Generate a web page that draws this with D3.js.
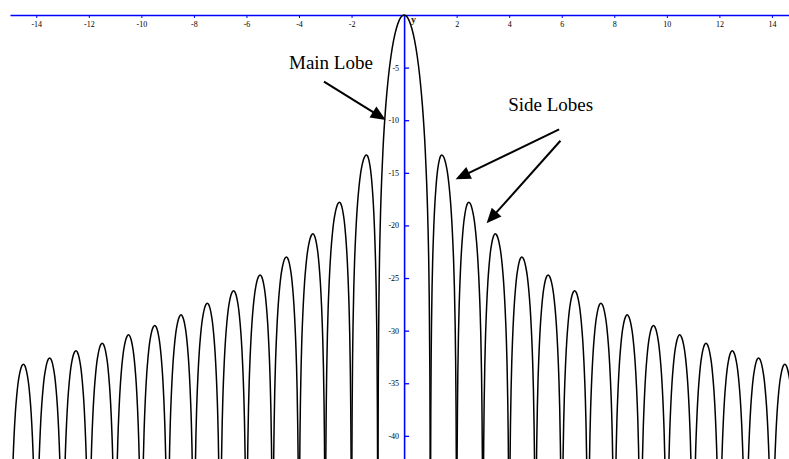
<!DOCTYPE html>
<html>
<head>
<meta charset="utf-8">
<script src="https://cdn.jsdelivr.net/npm/d3@7"></script>
<style>
  body { margin: 0; background: #fff; }
  svg { display: block; }
  .tick text { font-family: "Liberation Serif", "Times New Roman", serif; font-size: 8px; fill: #000; }
</style>
</head>
<body>
<svg id="chart" width="789" height="459"></svg>
<script>
// main lobe, right half (left half is the mirror)
const mainLobeX  = [0, 0.05, 0.1, 0.15, 0.2, 0.3, 0.4, 0.5, 0.6, 0.7, 0.8, 0.85, 0.9, 0.95, 0.98, 0.99, 0.995, 1];
const mainLobeDb = [0, -0.04, -0.14, -0.32, -0.58, -1.33, -2.42, -3.92, -5.94, -8.69, -12.6, -15.4, -19.2, -25.6, -33.8, -39.9, -46, -60];

// side lobe peaks for x > 0 (mirrored for x < 0)
const sideLobePeakX  = [1.43, 2.46, 3.47, 4.48, 5.48, 6.49, 7.49, 8.49, 9.49, 10.49, 11.49, 12.49, 13.49, 14.49];
const sideLobePeakDb = [-13.3, -17.8, -20.8, -23.0, -24.7, -26.2, -27.4, -28.5, -29.5, -30.4, -31.2, -31.9, -32.6, -33.2];

// shape of one side lobe: fraction of the way from a null to the peak, dB below the peak
const lobeShapeFrac = [0, 0.005, 0.01, 0.02, 0.04, 0.07, 0.1, 0.15, 0.2, 0.3, 0.4, 0.5, 0.6, 0.7, 0.8, 0.9, 1];
const lobeShapeDb   = [-60, -42.1, -36.1, -30.1, -24.0, -19.2, -16.1, -12.6, -10.2, -6.9, -4.6, -3.0, -1.8, -1.0, -0.44, -0.11, 0];

const xTicks = [-14, -12, -10, -8, -6, -4, -2, 2, 4, 6, 8, 10, 12, 14];
const yTicks = [-5, -10, -15, -20, -25, -30, -35, -40];

const labels = [
  { text: "Main Lobe", x: -4.38, y: -5.13 },
  { text: "Side Lobes", x: 3.96, y: -9.1 }
];
const arrows = [
  { x1: -3.05, y1: -6.34, x2: -0.70, y2: -9.98 },
  { x1: 5.90, y1: -10.87, x2: 1.96, y2: -15.62 },
  { x1: 5.95, y1: -11.95, x2: 3.14, y2: -19.80 }
];

const width = 789, height = 459;
const svg = d3.select("#chart");

const x = d3.scaleLinear().domain([-15, 14.65]).range([10, 789]);
const y = d3.scaleLinear().domain([0, -42.2]).range([15, 459]);

// build lobes as point lists
let lobes = [];

let main = [];
for (let i = mainLobeX.length - 1; i > 0; i--) main.push([-mainLobeX[i], mainLobeDb[i]]);
for (let i = 0; i < mainLobeX.length; i++) main.push([mainLobeX[i], mainLobeDb[i]]);
lobes.push(main);

sideLobePeakX.forEach((px, k) => {
  const nullLeft = k + 1;
  const nullRight = k + 2;
  const peak = sideLobePeakDb[k];
  let pts = [];
  lobeShapeFrac.forEach((f, j) => {
    pts.push([nullLeft + f * (px - nullLeft), peak + lobeShapeDb[j]]);
  });
  for (let j = lobeShapeFrac.length - 2; j >= 0; j--) {
    pts.push([px + (1 - lobeShapeFrac[j]) * (nullRight - px), peak + lobeShapeDb[j]]);
  }
  lobes.push(pts);
  lobes.push(pts.map(p => [-p[0], p[1]]).reverse());
});

svg.append("rect").attr("width", width).attr("height", height).attr("fill", "#fff");

svg.append("clipPath").attr("id", "plotclip")
  .append("rect")
  .attr("x", x(-15)).attr("y", 0)
  .attr("width", width - x(-15)).attr("height", height);

const line = d3.line()
  .x(d => x(d[0]))
  .y(d => y(d[1]))
  .curve(d3.curveMonotoneX);

// axes
const xAxis = d3.axisBottom(x)
  .tickValues(xTicks)
  .tickFormat(d => String(d))
  .tickSizeInner(3)
  .tickSizeOuter(0)
  .tickPadding(3);

const gx = svg.append("g").attr("transform", `translate(0,${y(0)})`).call(xAxis);
gx.select(".domain").attr("stroke", "#0000ff").attr("stroke-width", 1.6);
gx.selectAll(".tick line").attr("stroke", "#0000ff");

const yAxis = d3.axisLeft(y)
  .tickValues(yTicks)
  .tickFormat(d => String(d))
  .tickSizeInner(-5)
  .tickSizeOuter(0)
  .tickPadding(5);

const gy = svg.append("g").attr("transform", `translate(${x(0)},0)`).call(yAxis);
gy.select(".domain").attr("stroke", "#0000ff").attr("stroke-width", 1.6);
gy.selectAll(".tick line").attr("stroke", "#0000ff").attr("stroke-width", 1.3);

svg.append("text")
  .attr("x", x(0) + 7)
  .attr("y", y(0) + 8)
  .attr("font-family", "Liberation Serif, Times New Roman, serif")
  .attr("font-size", 10)
  .attr("font-weight", "bold")
  .attr("fill", "#222")
  .text("y");

// curve
svg.append("g").attr("clip-path", "url(#plotclip)")
  .selectAll("path.lobe")
  .data(lobes)
  .enter()
  .append("path")
  .attr("class", "lobe")
  .attr("d", line)
  .attr("fill", "none")
  .attr("stroke", "#000")
  .attr("stroke-width", 1.5);

// annotations
svg.selectAll("text.anno")
  .data(labels)
  .enter()
  .append("text")
  .attr("class", "anno")
  .attr("x", d => x(d.x))
  .attr("y", d => y(d.y))
  .attr("font-family", "Liberation Serif, Times New Roman, serif")
  .attr("font-size", 19)
  .attr("fill", "#000")
  .text(d => d.text);

const headLen = 15, headHalf = 6.5;
arrows.forEach(a => {
  const x1 = x(a.x1), y1 = y(a.y1), x2 = x(a.x2), y2 = y(a.y2);
  const len = Math.hypot(x2 - x1, y2 - y1);
  const ux = (x2 - x1) / len, uy = (y2 - y1) / len;
  const bx = x2 - ux * headLen, by = y2 - uy * headLen;
  svg.append("line")
    .attr("x1", x1).attr("y1", y1)
    .attr("x2", bx + ux * 3).attr("y2", by + uy * 3)
    .attr("stroke", "#000")
    .attr("stroke-width", 2);
  svg.append("polygon")
    .attr("points", [
      [x2, y2],
      [bx - uy * headHalf, by + ux * headHalf],
      [bx + uy * headHalf, by - ux * headHalf]
    ].map(p => p.join(",")).join(" "))
    .attr("fill", "#000");
});
</script>
</body>
</html>
